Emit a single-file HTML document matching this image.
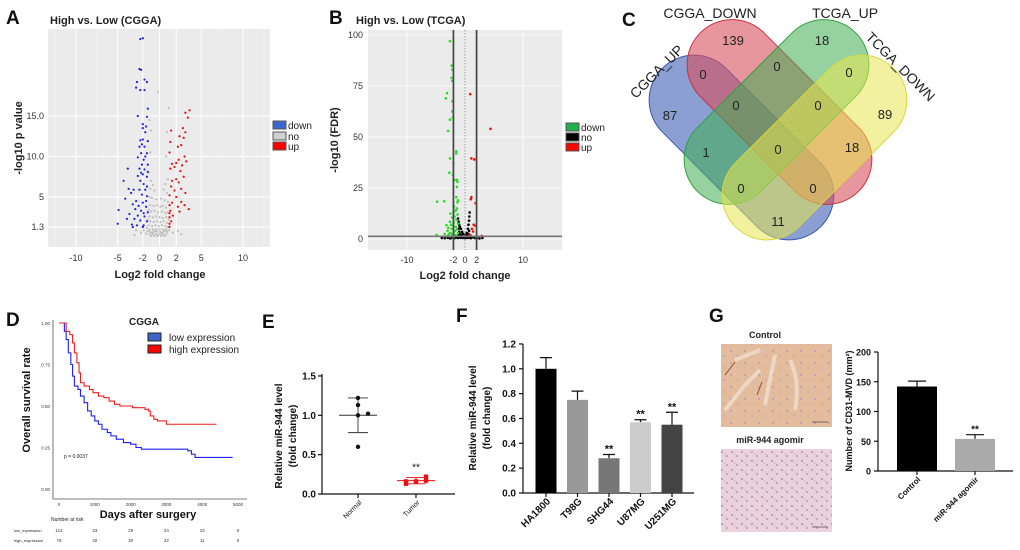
<!DOCTYPE html>
<html><head><meta charset="utf-8"><style>
body{margin:0;background:#fff;}
svg{display:block;font-family:"Liberation Sans",Arial,sans-serif;}
</style></head><body>
<svg id="fig" width="1020" height="550" viewBox="0 0 1020 550" xmlns="http://www.w3.org/2000/svg">
<defs>
<pattern id="tisC" width="14" height="12" patternUnits="userSpaceOnUse"><rect width="14" height="12" fill="#e2bc9c"/><circle cx="3" cy="3" r="1" fill="#b89ab8"/><circle cx="10" cy="8" r="0.9" fill="#c7a0b0"/><circle cx="7" cy="2" r="0.6" fill="#efd6c0"/></pattern>
<pattern id="tisA" width="10" height="9" patternUnits="userSpaceOnUse"><rect width="10" height="9" fill="#ead2dc"/><circle cx="2" cy="2" r="1" fill="#b08cb8"/><circle cx="7" cy="6" r="1" fill="#bc96c0"/><circle cx="5" cy="4" r="0.6" fill="#d8a4a8"/></pattern>
</defs>

<g font-weight="bold" font-size="19" fill="#111">
<text x="6" y="24">A</text>
<text x="329" y="24">B</text>
<text x="622" y="26">C</text>
<text x="6" y="326">D</text>
<text x="262" y="328">E</text>
<text x="456" y="322">F</text>
<text x="709" y="322">G</text>
</g>

<g id="pA">
<text x="50" y="24" font-size="11" font-weight="bold" fill="#222">High vs. Low (CGGA)</text>
<rect x="48" y="29" width="222" height="218" fill="#ebebeb"/>
<text transform="translate(22,138) rotate(-90)" text-anchor="middle" font-size="11" font-weight="bold" fill="#222">-log10 p value</text>
<text x="160" y="278" text-anchor="middle" font-size="11" font-weight="bold" fill="#222">Log2 fold change</text>
<g font-size="10" fill="#222">
<rect x="273" y="121" width="13" height="8" fill="#3c66c8" stroke="#555"/><text x="288" y="129">down</text>
<rect x="273" y="132" width="13" height="8" fill="#d0d0d0" stroke="#555"/><text x="288" y="140">no</text>
<rect x="273" y="142" width="13" height="8" fill="#f00" stroke="#555"/><text x="288" y="150">up</text>
</g>
</g>

<g id="pB">
<text x="356" y="24" font-size="11" font-weight="bold" fill="#222">High vs. Low (TCGA)</text>
<rect x="368" y="30" width="194" height="220" fill="#ebebeb"/>
<text transform="translate(338,140) rotate(-90)" text-anchor="middle" font-size="11" font-weight="bold" fill="#222">-log10 (FDR)</text>
<text x="465" y="279" text-anchor="middle" font-size="11" font-weight="bold" fill="#222">Log2 fold change</text>
<g font-size="10" fill="#222">
<rect x="566" y="123" width="13" height="8" fill="#1fb14c" stroke="#555"/><text x="581" y="131">down</text>
<rect x="566" y="133" width="13" height="8" fill="#000" stroke="#555"/><text x="581" y="141">no</text>
<rect x="566" y="143" width="13" height="8" fill="#f00" stroke="#555"/><text x="581" y="151">up</text>
</g>
</g>

<g id="pC">
<g transform="translate(741.5,147.5) rotate(45)"><rect x="-112" y="-45" width="224" height="90" rx="45" fill="#3e5fb4" fill-opacity="0.6" stroke="#3a55b0"/></g>
<g transform="translate(779.5,112) rotate(45)"><rect x="-112" y="-45" width="224" height="90" rx="45" fill="#d9505c" fill-opacity="0.6" stroke="#c83040"/></g>
<g transform="translate(776.5,112) rotate(-45)"><rect x="-112" y="-45" width="224" height="90" rx="45" fill="#40ad52" fill-opacity="0.55" stroke="#30a040"/></g>
<g transform="translate(814.5,147.5) rotate(-45)"><rect x="-112" y="-45" width="224" height="90" rx="45" fill="#e6e650" fill-opacity="0.55" stroke="#d8d840"/></g>
<g font-size="14" fill="#222">
<text x="710" y="18" text-anchor="middle">CGGA_DOWN</text>
<text x="845" y="18" text-anchor="middle">TCGA_UP</text>
<text transform="translate(660,75) rotate(-45)" text-anchor="middle">CGGA_UP</text>
<text transform="translate(897,70) rotate(45)" text-anchor="middle">TCGA_DOWN</text>
</g>
<g font-size="13" fill="#222" text-anchor="middle">
<text x="733" y="45">139</text>
<text x="822" y="45">18</text>
<text x="703" y="79">0</text>
<text x="777" y="71">0</text>
<text x="849" y="77">0</text>
<text x="670" y="120">87</text>
<text x="736" y="110">0</text>
<text x="818" y="110">0</text>
<text x="885" y="119">89</text>
<text x="706" y="157">1</text>
<text x="778" y="154">0</text>
<text x="852" y="152">18</text>
<text x="741" y="193">0</text>
<text x="813" y="193">0</text>
<text x="778" y="226">11</text>
</g>
</g>

<g id="pD">
<text x="144" y="325" text-anchor="middle" font-size="10" font-weight="bold" fill="#222">CGGA</text>
<rect x="148" y="333" width="13" height="8" fill="#3c66c8" stroke="#222"/>
<text x="169" y="341" font-size="10" fill="#222">low expression</text>
<rect x="148" y="345" width="13" height="8" fill="#f00" stroke="#222"/>
<text x="169" y="353" font-size="10" fill="#222">high expression</text>
<text transform="translate(30,400) rotate(-90)" text-anchor="middle" font-size="11" font-weight="bold" fill="#111">Overall survival rate</text>
<text x="148" y="518" text-anchor="middle" font-size="11" font-weight="bold" fill="#111">Days after surgery</text>
<text x="64" y="458" font-size="5" fill="#222">p = 0.0037</text>
<text x="51" y="521" font-size="5" fill="#222">Number at risk</text>
<text x="14" y="532" font-size="4" fill="#222">low_expression</text>
<text x="14" y="542" font-size="4" fill="#222">high_expression</text>
</g>

<g id="pE">
<text transform="translate(282,436) rotate(-90)" text-anchor="middle" font-size="10" font-weight="bold" fill="#111">Relative miR-944 level</text>
<text transform="translate(296,436) rotate(-90)" text-anchor="middle" font-size="10" font-weight="bold" fill="#111">(fold change)</text>
</g>

<g id="pF">
<text transform="translate(476,418) rotate(-90)" text-anchor="middle" font-size="10" font-weight="bold" fill="#111">Relative miR-944 level</text>
<text transform="translate(490,418) rotate(-90)" text-anchor="middle" font-size="10" font-weight="bold" fill="#111">(fold change)</text>
</g>

<g id="pG">
<text x="765" y="338" text-anchor="middle" font-size="9" font-weight="bold" fill="#222">Control</text>
<rect x="721" y="344" width="111" height="83" fill="url(#tisC)"/>
<path d="M725 410 L745 385 L760 370 M775 355 L770 380 L765 405 M790 360 Q800 380 795 410 M735 360 L760 350" stroke="#f3e4d6" stroke-width="4" fill="none" opacity="0.7"/>
<path d="M725 375 L735 362 M757 395 L762 382" stroke="#9a4a2a" stroke-width="1" fill="none"/>
<line x1="812" y1="422" x2="828" y2="422" stroke="#444" stroke-width="0.7"/>
<text x="770" y="443" text-anchor="middle" font-size="9" font-weight="bold" fill="#222">miR-944 agomir</text>
<rect x="721" y="449" width="111" height="83" fill="url(#tisA)"/>
<line x1="812" y1="527" x2="828" y2="527" stroke="#444" stroke-width="0.7"/>
<text transform="translate(852,411) rotate(-90)" text-anchor="middle" font-size="9" font-weight="bold" fill="#111">Number of CD31-MVD (mm²)</text>
</g>
</svg>

<script>
// ---------- DATA ----------
const aDown=[[-2.3,24.5],[-2.0,24.6],[-2.4,20.8],[-2.2,20.7],[-2.7,19.2],[-1.8,19.5],[-1.5,19.2],[-2.8,18.5],[-2.3,18.2],[-1.8,18.2],[-1.4,15.9],[-2.6,15.0],[-1.5,14.9],[-2.0,14.0],[-1.6,13.7],[-2.0,13.5],[-1.7,13.0],[-2.3,12.0],[-2.0,12.1],[-1.4,11.9],[-2.1,11.5],[-1.8,11.2],[-2.4,11.2],[-1.5,10.4],[-2.2,10.4],[-2.6,9.9],[-1.9,9.6],[-2.1,9.0],[-1.4,9.0],[-3.8,8.5],[-2.4,8.5],[-1.8,8.4],[-2.0,7.8],[-2.6,7.6],[-1.5,7.5],[-4.3,7.0],[-2.3,7.0],[-1.9,6.6],[-3.7,6.0],[-3.1,5.9],[-2.4,5.9],[-1.7,5.9],[-3.4,5.5],[-2.1,5.3],[-1.5,5.1],[-4.1,4.8],[-2.8,4.5],[-2.0,4.3],[-3.2,4.1],[-2.5,3.9],[-1.6,3.8],[-2.9,3.5],[-2.2,3.3],[-1.4,3.1],[-4.9,3.4],[-3.6,2.9],[-2.6,2.7],[-1.8,2.6],[-3.9,2.3],[-3.0,2.3],[-2.3,2.1],[-1.5,2.0],[-3.3,1.6],[-2.7,1.5],[-1.9,1.5],[-5.0,1.7],[-3.2,1.3],[-2.0,1.3],[-1.6,4.5],[-1.5,6.3],[-1.4,8.1],[-1.7,10.0],[-2.2,8.0],[-1.9,3.0]];
const aUp=[[3.6,15.7],[3.1,15.4],[3.4,14.8],[2.8,13.5],[1.4,13.2],[3.1,13.0],[2.4,12.5],[2.9,12.3],[1.3,11.8],[2.6,11.4],[2.2,11.2],[1.2,10.5],[3.0,10.0],[2.3,9.6],[1.5,9.1],[3.2,9.4],[2.0,9.2],[2.7,8.9],[1.3,8.5],[1.8,8.7],[2.5,8.2],[2.9,7.5],[2.0,7.2],[1.5,7.0],[2.3,6.8],[1.4,6.3],[2.6,6.0],[1.8,5.8],[3.1,5.5],[1.2,5.2],[2.0,5.0],[2.6,4.4],[1.5,4.3],[3.0,4.0],[2.2,3.8],[1.3,3.3],[3.5,3.5],[2.4,3.2],[1.6,2.7],[1.2,1.7],[1.4,2.0],[1.2,1.3],[1.2,2.5],[1.2,3.0],[1.2,4.0]];
const aNo=[[-0.2,18.0],[1.1,16.0],[-1.2,14.5],[-1.0,13.2],[0.9,13.0],[-1.1,10.5],[0.8,10.0],[-1.3,8.0],[-1.0,7.0],[-0.8,6.5],[1.0,7.2],[0.7,6.6],[-1.1,6.0],[-0.6,5.8],[0.5,5.9],[0.9,5.5],[-1.2,5.0],[-0.9,4.9],[-0.4,4.7],[0.2,4.8],[0.6,4.6],[1.0,4.4],[-1.1,4.0],[-0.7,3.9],[-0.3,4.0],[0.1,3.8],[0.4,3.9],[0.8,3.7],[-1.3,3.4],[-1.0,3.2],[-0.6,3.3],[-0.2,3.1],[0.3,3.2],[0.7,3.0],[1.0,3.1],[-1.2,2.6],[-0.8,2.5],[-0.4,2.6],[0.0,2.5],[0.4,2.4],[0.8,2.5],[-1.1,2.0],[-0.7,1.9],[-0.3,2.0],[0.1,1.9],[0.5,2.0],[0.9,1.8],[-1.3,1.5],[-0.9,1.4],[-0.5,1.5],[-0.1,1.4],[0.3,1.5],[0.7,1.4],[1.0,1.3],[-1.2,1.0],[-0.8,1.0],[-0.4,1.0],[0.0,1.0],[0.4,1.0],[0.8,1.0],[-1.1,0.7],[-0.7,0.7],[-0.3,0.7],[0.1,0.7],[0.5,0.7],[0.9,0.7],[-1.2,0.4],[-0.8,0.4],[-0.4,0.4],[0.0,0.4],[0.4,0.4],[0.8,0.4],[-1.0,0.2],[-0.6,0.2],[-0.2,0.2],[0.2,0.2],[0.6,0.2],[-1.4,0.8],[1.1,0.9],[-1.5,1.2],[-1.4,2.2],[1.1,2.2],[-0.5,0.85],[0.25,0.55],[-0.9,0.55],[0.65,0.85],[-1.6,0.5],[-2.2,0.6],[-2.8,0.9],[1.6,0.6],[2.2,0.8],[-3.0,0.3],[2.6,0.4],[-1.9,0.9]];
const aXTicks=[-10,-5,-2,0,2,5,10];
const aYTicks=[1.3,5,10,15];
const aYTickLabels=["1.3","5","10.0","15.0"];

const bDown=[[-2.6,97],[-2.3,85],[-2.2,83],[-2.3,79],[-2.2,77.5],[-3.1,71.5],[-3.3,69],[-2.2,67.5],[-2.2,62.5],[-2.1,59.5],[-2.6,58.5],[-2.9,53],[-1.5,43],[-1.5,42],[-2.6,39.5],[-2.0,37],[-2.7,32.5],[-2.1,31.5],[-1.8,29],[-1.4,29],[-1.3,28],[-1.4,25.5],[-1.5,20.5],[-1.2,19],[-3.6,18.5],[-4.8,18.3],[-1.3,18],[-1.9,16],[-1.6,14],[-1.9,13],[-2.5,12.5],[-1.3,12],[-2.2,10.5],[-1.5,9.5],[-2.6,8.5],[-1.9,8],[-1.2,7.5],[-3.2,6.8],[-2.0,6.5],[-1.6,6],[-2.9,5.5],[-2.3,5],[-1.4,4.8],[-3.0,4],[-1.9,3.5],[-2.5,3],[-1.2,3],[-3.5,2.5],[-2.2,2.2],[-1.7,2],[-4.9,2],[-2.9,1.8],[-1.4,1.6],[-1.8,11],[-1.4,15],[-2.4,7],[-1.7,4],[-2.7,2.6]];
const bUp=[[0.9,71],[4.4,54],[1.1,39.5],[1.6,39],[1.1,20.5],[1.0,19.5],[1.8,17.5],[1.5,7],[1.8,6.5],[1.2,5],[1.4,3.7],[2.9,1.5],[0.8,2],[1.0,1.6]];
const bNo=[[-1.2,10],[-1.1,8.5],[-1.0,7],[-0.9,6],[-0.7,5],[-0.5,3.5],[-0.3,2.5],[0.8,13],[0.75,11],[0.7,9],[0.6,7],[0.5,5],[0.3,3],[0.1,2],[-1.1,5],[-1.0,3.5],[-0.8,2.5],[0.7,4],[0.6,2.5],[-4.0,0.5],[-3.5,0.4],[-3.0,0.6],[-2.6,0.3],[-2.2,0.5],[-1.8,0.4],[-1.5,0.7],[-1.2,0.5],[-1.0,1.2],[-0.8,0.6],[-0.6,1.0],[-0.4,0.5],[-0.2,0.8],[0.0,0.4],[0.2,0.7],[0.4,0.5],[0.6,1.0],[0.8,0.6],[1.0,0.4],[1.3,0.8],[1.7,0.5],[2.1,0.4],[2.5,0.3],[3.0,0.5],[-1.1,2],[0.9,1.8],[-0.9,1.5],[0.8,1.3],[-1.3,1.0],[1.1,1.1],[-0.5,1.8],[0.4,1.6]];
const bXTicks=[-10,-2,0,2,10];
const bYTicks=[0,25,50,75,100];

const kmLow=[[0,1],[100,1],[150,0.95],[200,0.9],[260,0.82],[330,0.75],[380,0.68],[430,0.62],[530,0.6],[600,0.56],[700,0.52],[800,0.47],[900,0.44],[1000,0.41],[1100,0.39],[1200,0.36],[1350,0.34],[1450,0.32],[1600,0.30],[1800,0.28],[2000,0.27],[2150,0.25],[2300,0.24],[3500,0.24],[3600,0.23],[3700,0.21],[3800,0.19],[4850,0.19]];
const kmHigh=[[0,1],[150,1],[200,0.95],[300,0.93],[380,0.88],[430,0.82],[500,0.76],[560,0.7],[600,0.64],[700,0.62],[850,0.6],[950,0.58],[1100,0.56],[1250,0.55],[1400,0.53],[1550,0.51],[1700,0.5],[2050,0.49],[2400,0.48],[2500,0.47],[2550,0.44],[2650,0.42],[2750,0.41],[3000,0.39],[4400,0.39]];
const kmXTicks=[0,1000,2000,3000,4000,5000];
const kmYTicks=[0,0.25,0.5,0.75,1];
const kmYTickLabels=["0.00","0.25","0.50","0.75","1.00"];
const riskLow=[114,43,29,24,10,0];
const riskHigh=[76,40,30,22,11,0];

const eGroups=["Normal","Tumor"];
const eNormal=[1.22,1.13,1.0,1.02,0.6];
const eTumor=[0.13,0.16,0.17,0.16,0.22];
const eMean=[1.0,0.17];
const eSD=[0.22,0.04];
const eYTicks=[0,0.5,1.0,1.5];

const fCats=["HA1800","T98G","SHG44","U87MG","U251MG"];
const fVals=[1.0,0.75,0.28,0.57,0.55];
const fErr=[0.09,0.07,0.03,0.02,0.1];
const fSig=["","","**","**","**"];
const fYTicks=[0,0.2,0.4,0.6,0.8,1.0,1.2];

const gCats=["Control","miR-944 agomir"];
const gVals=[142,54];
const gErr=[9,7];
const gSig=["","**"];
const gYTicks=[0,50,100,150,200];

// ---------- HELPERS ----------
const NS="http://www.w3.org/2000/svg";
function mk(tag,attrs,parent){const e=document.createElementNS(NS,tag);for(const k in attrs)e.setAttribute(k,attrs[k]);parent.appendChild(e);return e;}
function tx(str,attrs,parent){const e=mk('text',attrs,parent);e.textContent=str;return e;}
const gA=document.getElementById('pA'),gB=document.getElementById('pB'),gD=document.getElementById('pD'),gE=document.getElementById('pE'),gF=document.getElementById('pF'),gGr=document.getElementById('pG');

// ---------- PANEL A ----------
const xA=v=>159.5+v*8.35, yA=v=>237.5-v*8.1;
[-12.5,-7.5,7.5,12.5].forEach(v=>{const l=mk('line',{x1:xA(v),x2:xA(v),y1:29,y2:247,stroke:'#f6f6f6','stroke-width':0.5},gA);

});
aXTicks.forEach(v=>{const l=mk('line',{x1:xA(v),x2:xA(v),y1:29,y2:247,stroke:'#fff','stroke-width':1},gA);


const t=tx(String(v),{x:xA(v),y:261,'text-anchor':'middle','font-size':9,fill:'#333'},gA);

});
aYTicks.forEach((v,i)=>{const l=mk('line',{x1:48,x2:270,y1:yA(v),y2:yA(v),stroke:'#fff','stroke-width':1},gA);


const t=tx(aYTickLabels[i],{x:44,y:yA(v)+3,'text-anchor':'end','font-size':9,fill:'#333'},gA);

});
aNo.forEach(p=>{const c=mk('circle',{cx:xA(p[0]),cy:yA(p[1]),r:1.1,fill:'#bdbdbd'},gA);

});
aDown.forEach(p=>{const c=mk('circle',{cx:xA(p[0]),cy:yA(p[1]),r:1.1,fill:'#2020e0'},gA);

});
aUp.forEach(p=>{const c=mk('circle',{cx:xA(p[0]),cy:yA(p[1]),r:1.1,fill:'#e01010'},gA);

});

// ---------- PANEL B ----------
const xB=v=>465+v*5.8, yB=v=>239-v*2.04;
bXTicks.forEach(v=>{const l=mk('line',{x1:xB(v),x2:xB(v),y1:30,y2:250,stroke:'#fff','stroke-width':0.8},gB);


const t=tx(String(v),{x:xB(v),y:263,'text-anchor':'middle','font-size':9,fill:'#333'},gB);

});
bYTicks.forEach(v=>{const l=mk('line',{x1:368,x2:562,y1:yB(v),y2:yB(v),stroke:'#fff','stroke-width':0.8},gB);


const t=tx(String(v),{x:363,y:yB(v)+3,'text-anchor':'end','font-size':9,fill:'#333'},gB);

});
bNo.forEach(p=>{const c=mk('circle',{cx:xB(p[0]),cy:yB(p[1]),r:1.3,fill:'#000'},gB);

});
bDown.forEach(p=>{const c=mk('circle',{cx:xB(p[0]),cy:yB(p[1]),r:1.3,fill:'#22dd22'},gB);

});
bUp.forEach(p=>{const c=mk('circle',{cx:xB(p[0]),cy:yB(p[1]),r:1.3,fill:'#ee1111'},gB);

});
[-2,2].forEach(v=>{const l=mk('line',{x1:xB(v),x2:xB(v),y1:30,y2:250,stroke:'#777','stroke-width':2},gB);


const l2=mk('line',{x1:xB(v),x2:xB(v),y1:30,y2:250,stroke:'#222','stroke-width':0.6},gB);

});
const bz=mk('line',{x1:xB(0),x2:xB(0),y1:30,y2:250,stroke:'#555','stroke-width':0.6,'stroke-dasharray':'1.5 1.5'},gB);


const bh=mk('line',{x1:368,x2:562,y1:yB(1.3),y2:yB(1.3),stroke:'#777','stroke-width':1.6},gB);



// ---------- PANEL D ----------
const xD=v=>59+v*0.0358, yD=v=>489-v*166;
const dax=mk('path',{d:'M53 320 L53 499 L247 499',fill:'none',stroke:'#555','stroke-width':0.8},gD);


kmXTicks.forEach(v=>{const t=tx(String(v),{x:xD(v),y:506,'text-anchor':'middle','font-size':4.5,fill:'#333'},gD);

});
kmYTicks.forEach((v,i)=>{const t=tx(kmYTickLabels[i],{x:50,y:yD(v)+2,'text-anchor':'end','font-size':4.5,fill:'#333'},gD);

});
riskLow.forEach((v,i)=>{const t=tx(String(v),{x:xD(kmXTicks[i]),y:532,'text-anchor':'middle','font-size':4.5,fill:'#333'},gD);

});
riskHigh.forEach((v,i)=>{const t=tx(String(v),{x:xD(kmXTicks[i]),y:542,'text-anchor':'middle','font-size':4.5,fill:'#333'},gD);

});
function stepPath(d){let s='M'+xD(d[0][0])+' '+yD(d[0][1]);for(let i=1;i<d.length;i++){s+=' L'+xD(d[i][0])+' '+yD(d[i-1][1])+' L'+xD(d[i][0])+' '+yD(d[i][1]);}return s;}
const kl=mk('path',{d:stepPath(kmLow),fill:'none',stroke:'#1f1ff0','stroke-width':1.1},gD);


const kh=mk('path',{d:stepPath(kmHigh),fill:'none',stroke:'#f01f1f','stroke-width':1.1},gD);



// ---------- PANEL E ----------
const yE=v=>494-v*78.7, xE=[358,416];
const eax=mk('path',{d:'M322 374 L322 494 L455 494',fill:'none',stroke:'#111','stroke-width':1.2},gE);


eYTicks.forEach(v=>{const l=mk('line',{x1:318,x2:322,y1:yE(v),y2:yE(v),stroke:'#111','stroke-width':1.2},gE);


const t=tx(v.toFixed(1),{x:316,y:yE(v)+3.5,'text-anchor':'end','font-size':10,'font-weight':'bold',fill:'#111'},gE);

});
eGroups.forEach((g,i)=>{const x=xE[i];
const tk=mk('line',{x1:x,x2:x,y1:494,y2:498,stroke:'#111','stroke-width':1.2},gE);


const t=tx(g,{transform:`translate(${x+4},${503}) rotate(-45)`,'text-anchor':'end','font-size':7,fill:'#111'},gE);


const col=i===0?'#333':'#ee1111';
const m=mk('line',{x1:x-19,x2:x+19,y1:yE(eMean[i]),y2:yE(eMean[i]),stroke:col,'stroke-width':1},gE);


const v=mk('path',{d:`M${x} ${yE(eMean[i]+eSD[i])} L${x} ${yE(eMean[i]-eSD[i])} M${x-10} ${yE(eMean[i]+eSD[i])} L${x+10} ${yE(eMean[i]+eSD[i])} M${x-10} ${yE(eMean[i]-eSD[i])} L${x+10} ${yE(eMean[i]-eSD[i])}`,stroke:col,'stroke-width':0.9,fill:'none'},gE);

});
const eOff=[0,0,0,10,0];
eNormal.forEach((v,j)=>{const c=mk('circle',{cx:xE[0]+eOff[j],cy:yE(v),r:2.2,fill:'#111'},gE);

});
const tOff=[-10,0,10,-10,10];
eTumor.forEach((v,j)=>{const r=mk('rect',{x:xE[1]+tOff[j]-2.2,y:yE(v)-2.2,width:4.4,height:4.4,fill:'#ee1111'},gE);

});
const es=tx('**',{x:xE[1],y:yE(Math.max(...eTumor))-6,'text-anchor':'middle','font-size':10,fill:'#111'},gE);



// ---------- PANEL F ----------
const yF=v=>493-v*124.2, xF=i=>546+i*31.5, fCol=['#000','#999','#777','#ccc','#444'];
const fax=mk('path',{d:'M523 344 L523 493 L694 493',fill:'none',stroke:'#111','stroke-width':1.2},gF);


fYTicks.forEach(v=>{const l=mk('line',{x1:519,x2:523,y1:yF(v),y2:yF(v),stroke:'#111','stroke-width':1.2},gF);


const t=tx(v.toFixed(1),{x:516,y:yF(v)+3.5,'text-anchor':'end','font-size':10,'font-weight':'bold',fill:'#111'},gF);

});
fCats.forEach((c,i)=>{const x=xF(i);
const e=mk('path',{d:`M${x} ${yF(fVals[i])} L${x} ${yF(fVals[i]+fErr[i])} M${x-6} ${yF(fVals[i]+fErr[i])} L${x+6} ${yF(fVals[i]+fErr[i])}`,stroke:'#111','stroke-width':1.2,fill:'none'},gF);


const b=mk('rect',{x:x-10.5,y:yF(fVals[i]),width:21,height:493-yF(fVals[i]),fill:fCol[i]},gF);


const tk=mk('line',{x1:x,x2:x,y1:493,y2:497,stroke:'#111','stroke-width':1.2},gF);


const t=tx(c,{transform:`translate(${x+5},${502}) rotate(-45)`,'text-anchor':'end','font-size':10,'font-weight':'bold',fill:'#111'},gF);


if(fSig[i]){const s=tx(fSig[i],{x:x,y:yF(fVals[i]+fErr[i])-2,'text-anchor':'middle','font-size':11,'font-weight':'bold',fill:'#111'},gF);

}});

// ---------- PANEL G ----------
const yG=v=>471-v*0.595, xG=[917,975], gCol=['#000','#aaa'];
const gax=mk('path',{d:'M878 352 L878 471 L1013 471',fill:'none',stroke:'#111','stroke-width':1.2},gGr);


gYTicks.forEach(v=>{const l=mk('line',{x1:874,x2:878,y1:yG(v),y2:yG(v),stroke:'#111','stroke-width':1.2},gGr);


const t=tx(String(v),{x:871,y:yG(v)+3.5,'text-anchor':'end','font-size':9,'font-weight':'bold',fill:'#111'},gGr);

});
gCats.forEach((c,i)=>{const x=xG[i];
const e=mk('path',{d:`M${x} ${yG(gVals[i])} L${x} ${yG(gVals[i]+gErr[i])} M${x-9} ${yG(gVals[i]+gErr[i])} L${x+9} ${yG(gVals[i]+gErr[i])}`,stroke:'#111','stroke-width':1.2,fill:'none'},gGr);


const b=mk('rect',{x:x-20,y:yG(gVals[i]),width:40,height:471-yG(gVals[i]),fill:gCol[i]},gGr);


const tk=mk('line',{x1:x,x2:x,y1:471,y2:475,stroke:'#111','stroke-width':1.2},gGr);


const t=tx(c,{transform:`translate(${x+4},${480}) rotate(-45)`,'text-anchor':'end','font-size':8,'font-weight':'bold',fill:'#111'},gGr);


if(gSig[i]){const s=tx(gSig[i],{x:x,y:yG(gVals[i]+gErr[i])-2,'text-anchor':'middle','font-size':10,'font-weight':'bold',fill:'#111'},gGr);

}});
</script>
</body></html>
